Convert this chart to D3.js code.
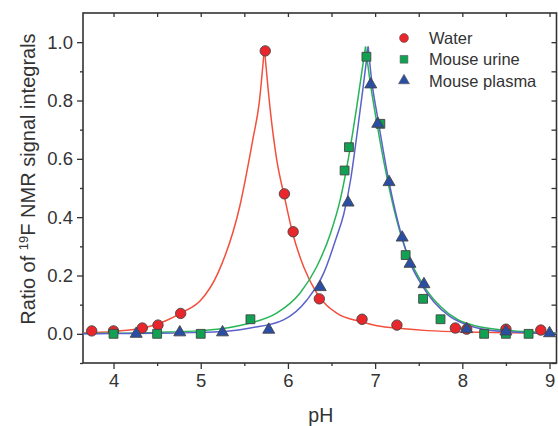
<!DOCTYPE html>
<html>
<head>
<meta charset="utf-8">
<script src="https://cdn.jsdelivr.net/npm/d3@7"></script>
<style>
  body { margin: 0; background: #fff; }
  svg text { font-family: "Liberation Sans", Arial, sans-serif; fill: #333; }
</style>
</head>
<body>
<svg id="chart" width="558" height="426"></svg>
<script>
/*
    DATA
*/
var waterPH    = [3.75, 4.0, 4.33, 4.51, 4.77, 5.74, 5.96, 6.06, 6.36, 6.85, 7.25, 7.92, 8.05, 8.5, 8.9];
var waterRatio = [0.01, 0.01, 0.02, 0.03, 0.07, 0.97, 0.48, 0.35, 0.12, 0.05, 0.03, 0.02, 0.016, 0.016, 0.013];

var urinePH    = [4.0, 4.5, 5.0, 5.57, 6.65, 6.70, 6.90, 7.06, 7.35, 7.55, 7.75, 8.25, 8.5, 8.76];
var urineRatio = [0, 0, 0, 0.05, 0.56, 0.64, 0.95, 0.72, 0.27, 0.12, 0.05, 0, 0, 0];

var plasmaPH    = [4.26, 4.76, 5.25, 5.78, 6.37, 6.69, 6.95, 7.03, 7.16, 7.31, 7.40, 7.56, 8.05, 8.5, 9.0];
var plasmaRatio = [0, 0.005, 0.005, 0.014, 0.16, 0.45, 0.855, 0.72, 0.52, 0.33, 0.24, 0.17, 0.016, 0.008, 0.002];

// fitted curves
var waterFitPH    = [3.65, 4.0, 4.2, 4.4, 4.6, 4.8, 5.0, 5.2, 5.45, 5.6, 5.67, 5.73, 5.80, 5.87, 5.96, 6.05, 6.18, 6.33, 6.56, 6.83, 7.02, 7.3, 7.6, 8.05, 8.5, 9.08];
var waterFitRatio = [0.003, 0.008, 0.014, 0.024, 0.045, 0.075, 0.115, 0.21, 0.44, 0.67, 0.79, 0.98, 0.76, 0.60, 0.47, 0.35, 0.23, 0.14, 0.071, 0.042, 0.028, 0.018, 0.011, 0.006, 0.004, 0.002];

var urineFitPH    = [3.65, 4.0, 4.5, 5.0, 5.3, 5.57, 5.87, 6.14, 6.33, 6.49, 6.6, 6.71, 6.79, 6.89, 6.94, 7.01, 7.14, 7.28, 7.38, 7.48, 7.59, 7.75, 7.94, 8.17, 8.43, 8.82, 9.08];
var urineFitRatio = [0.001, 0.002, 0.005, 0.011, 0.02, 0.037, 0.071, 0.14, 0.23, 0.346, 0.46, 0.63, 0.78, 0.985, 0.87, 0.74, 0.53, 0.355, 0.265, 0.205, 0.15, 0.094, 0.05, 0.026, 0.014, 0.006, 0.003];

var plasmaFitPH    = [3.65, 4.0, 4.5, 5.0, 5.3, 5.57, 5.95, 6.22, 6.41, 6.56, 6.64, 6.72, 6.79, 6.86, 6.92, 6.96, 7.03, 7.16, 7.3, 7.4, 7.52, 7.67, 7.86, 8.05, 8.32, 8.81, 9.08];
var plasmaFitRatio = [0.0, 0.001, 0.002, 0.005, 0.009, 0.02, 0.048, 0.117, 0.208, 0.334, 0.41, 0.53, 0.68, 0.84, 0.985, 0.87, 0.74, 0.52, 0.34, 0.245, 0.175, 0.111, 0.059, 0.031, 0.012, 0.003, 0.001];

var xMajor = [4, 5, 6, 7, 8, 9];
var xMinor = [4.5, 5.5, 6.5, 7.5, 8.5];
var yMajor = [0, 0.2, 0.4, 0.6, 0.8, 1.0];
var yMinor = [-0.1, 0.1, 0.3, 0.5, 0.7, 0.9];

var seriesNames = ["Water", "Mouse urine", "Mouse plasma"];

/*
    LAYOUT
*/
var plotLeft = 83, plotRight = 556.5, plotTop = 13, plotBottom = 363;

var x = d3.scaleLinear().domain([3.65, 9.08]).range([plotLeft, plotRight]);
var y = d3.scaleLinear().domain([-0.1, 1.1]).range([plotBottom, plotTop]);

var svg = d3.select("#chart");

var col = { water: "#e8262b", urine: "#12a152", plasma: "#2b4ea5" };
var lineCol = { water: "#f2503c", urine: "#26b556", plasma: "#5b62c9" };

/*
    AXES
*/
function styleAxis(g) {
  g.select(".domain").remove();
  g.selectAll(".tick line").attr("stroke", "#333").attr("stroke-width", 1.3);
  g.selectAll(".tick text").style("font-size", "18.5px").attr("fill", "#333");
}

svg.append("g")
    .attr("transform", "translate(0," + plotBottom + ")")
    .call(d3.axisBottom(x).tickValues(xMajor).tickSize(6).tickPadding(5).tickFormat(d3.format("d")))
    .call(styleAxis);
svg.append("g")
    .attr("transform", "translate(0," + plotBottom + ")")
    .call(d3.axisBottom(x).tickValues(xMinor).tickSize(3).tickFormat(""))
    .call(styleAxis);

svg.append("g")
    .attr("transform", "translate(" + plotLeft + ",0)")
    .call(d3.axisLeft(y).tickValues(yMajor).tickSize(6).tickPadding(4).tickFormat(d3.format(".1f")))
    .call(styleAxis);
svg.append("g")
    .attr("transform", "translate(" + plotLeft + ",0)")
    .call(d3.axisLeft(y).tickValues(yMinor).tickSize(3).tickFormat(""))
    .call(styleAxis);

// mirrored ticks, pointing inward
svg.append("g")
    .attr("transform", "translate(0," + plotTop + ")")
    .call(d3.axisTop(x).tickValues(xMajor.concat(xMinor)).tickSize(-4).tickFormat(""))
    .call(styleAxis);
svg.append("g")
    .attr("transform", "translate(" + plotRight + ",0)")
    .call(d3.axisRight(y).tickValues(yMajor.concat(yMinor)).tickSize(-5).tickFormat(""))
    .call(styleAxis);

svg.append("rect")
    .attr("x", plotLeft).attr("y", plotTop)
    .attr("width", plotRight - plotLeft).attr("height", plotBottom - plotTop)
    .attr("fill", "none").attr("stroke", "#333").attr("stroke-width", 1.6);

// axis titles
svg.append("text")
    .attr("x", (plotLeft + plotRight) / 2 + 1)
    .attr("y", 422)
    .attr("text-anchor", "middle")
    .style("font-size", "19.5px")
    .text("pH");

var yTitle = svg.append("text")
    .attr("transform", "translate(35,179) rotate(-90)")
    .attr("text-anchor", "middle")
    .style("font-size", "20px");
yTitle.append("tspan").text("Ratio of ");
yTitle.append("tspan").attr("dy", -7).style("font-size", "13px").text("19");
yTitle.append("tspan").attr("dy", 7).text("F NMR signal integrals");

/*
    FIT CURVES - split at the peak so the cusp stays sharp
*/
function drawFit(xs, ys, color) {
  var pts = xs.map(function(d, i) { return [d, ys[i]]; });
  var peak = ys.indexOf(d3.max(ys));
  var line = d3.line()
      .x(function(d) { return x(d[0]); })
      .y(function(d) { return y(d[1]); })
      .curve(d3.curveMonotoneX);
  [pts.slice(0, peak + 1), pts.slice(peak)].forEach(function(part) {
    svg.append("path")
        .attr("d", line(part))
        .attr("fill", "none")
        .attr("stroke", color)
        .attr("stroke-width", 1.5);
  });
}

drawFit(waterFitPH, waterFitRatio, lineCol.water);
drawFit(urineFitPH, urineFitRatio, lineCol.urine);
drawFit(plasmaFitPH, plasmaFitRatio, lineCol.plasma);

/*
    POINTS
*/
function drawPoints(xs, ys, shape, size, color) {
  svg.append("g").selectAll("path")
      .data(xs.map(function(d, i) { return [d, ys[i]]; }))
      .enter().append("path")
      .attr("d", d3.symbol().type(shape).size(size))
      .attr("transform", function(d) { return "translate(" + x(d[0]) + "," + y(d[1]) + ")"; })
      .attr("fill", color)
      .attr("stroke", "#444")
      .attr("stroke-width", 0.9);
}

drawPoints(waterPH, waterRatio, d3.symbolCircle, 85, col.water);
drawPoints(urinePH, urineRatio, d3.symbolSquare, 78, col.urine);
drawPoints(plasmaPH, plasmaRatio, d3.symbolTriangle, 62, col.plasma);

/*
    LEGEND
*/
var legendShapes = [d3.symbolCircle, d3.symbolSquare, d3.symbolTriangle];
var legendSizes = [62, 60, 52];
var legendCols = [col.water, col.urine, col.plasma];

var legend = svg.append("g").attr("transform", "translate(404,38)");
seriesNames.forEach(function(name, i) {
  var row = legend.append("g").attr("transform", "translate(0," + (i * 21.3) + ")");
  row.append("path")
      .attr("d", d3.symbol().type(legendShapes[i]).size(legendSizes[i]))
      .attr("fill", legendCols[i])
      .attr("stroke", "#555")
      .attr("stroke-width", 0.6);
  row.append("text")
      .attr("x", 25)
      .attr("y", 6)
      .style("font-size", "16.5px")
      .text(name);
});
</script>
</body>
</html>
